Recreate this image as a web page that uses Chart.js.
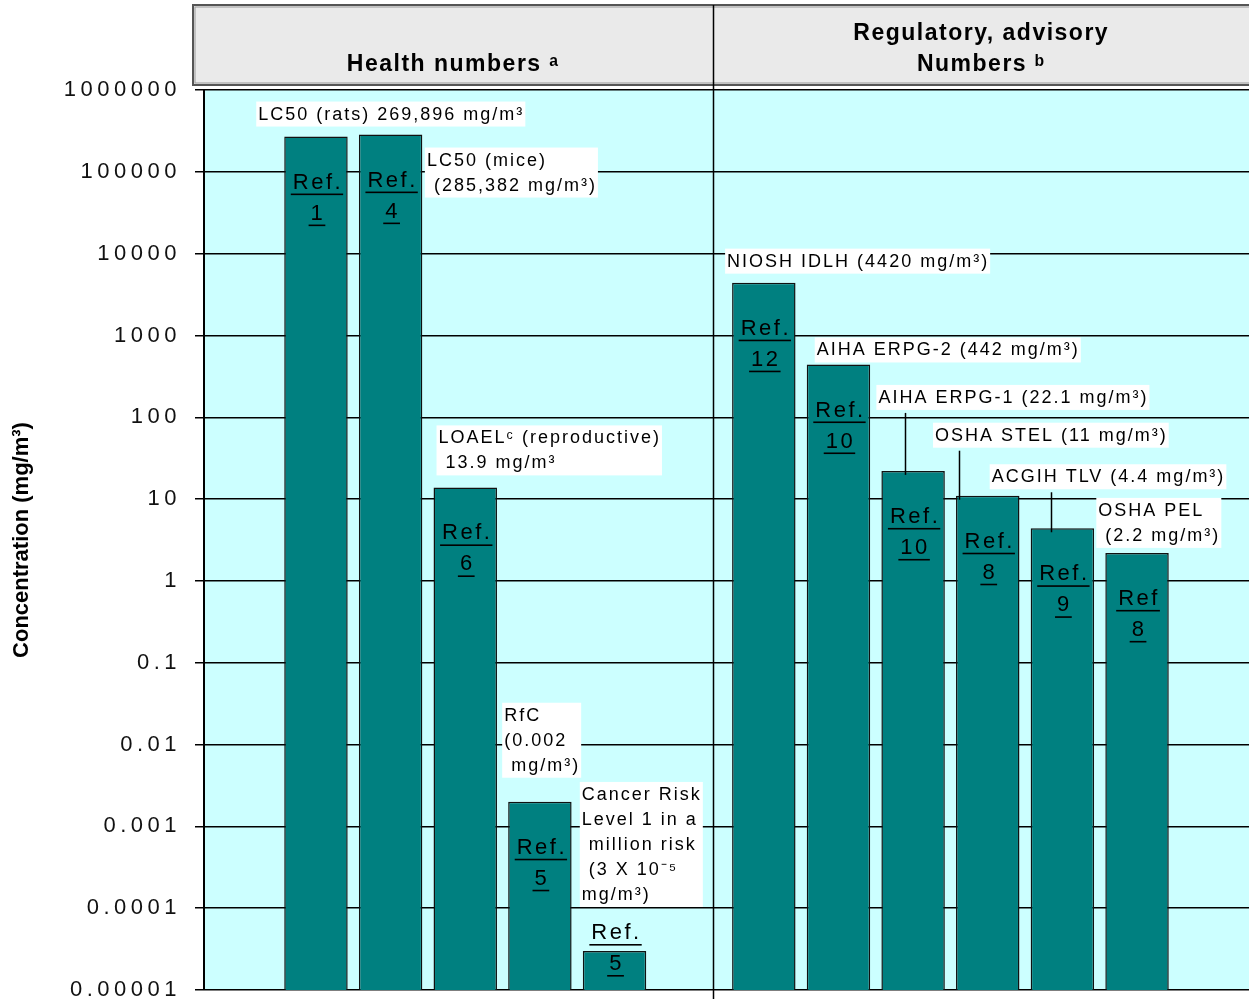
<!DOCTYPE html>
<html>
<head>
<meta charset="utf-8">
<script src="https://cdn.jsdelivr.net/npm/chart.js@4.4.1/dist/chart.umd.min.js"></script>
<style>
    html, body { margin: 0; padding: 0; background: #ffffff; }
    canvas { display: block; }
</style>
</head>
<body>
<canvas id="chart" width="1249" height="999"></canvas>
<script>
// empty slots keep the gaps between the two groups
const categories = ["", "LC50 rats", "LC50 mice", "LOAEL", "RfC", "Cancer risk", "",
    "NIOSH IDLH", "AIHA ERPG-2", "AIHA ERPG-1", "OSHA STEL", "ACGIH TLV", "OSHA PEL", ""];
const concentrations = [null, 269896, 285382, 13.9, 0.002, 0.00003, null,
    4420, 442, 22.1, 11, 4.4, 2.2, null];
const refWords = ["", "Ref.", "Ref.", "Ref.", "Ref.", "Ref.", "", "Ref.", "Ref.", "Ref.", "Ref.", "Ref.", "Ref", ""];
const refNumbers = ["", "1", "4", "6", "5", "5", "", "12", "10", "10", "8", "9", "8", ""];
const yTicks = [0.00001, 0.0001, 0.001, 0.01, 0.1, 1, 10, 100, 1000, 10000, 100000, 1000000];
const yTickLabels = ["0.00001", "0.0001", "0.001", "0.01", "0.1", "1", "10", "100", "1000", "10000", "100000", "1000000"];
const barLabels = [
    null,
    ["LC50 (rats) 269,896 mg/m³"],
    ["LC50 (mice)", " (285,382 mg/m³)"],
    ["LOAELᶜ (reproductive)", " 13.9 mg/m³"],
    ["RfC", "(0.002", " mg/m³)"],
    ["Cancer Risk", "Level 1 in a", " million risk", " (3 X 10⁻⁵", "mg/m³)"],
    null,
    ["NIOSH IDLH (4420 mg/m³)"],
    ["AIHA ERPG-2 (442 mg/m³)"],
    ["AIHA ERPG-1 (22.1 mg/m³)"],
    ["OSHA STEL (11 mg/m³)"],
    ["ACGIH TLV (4.4 mg/m³)"],
    ["OSHA PEL", " (2.2 mg/m³)"],
    null
];
const groupTitles = [["Health numbers ᵃ"], ["Regulatory, advisory", "Numbers ᵇ"]];
const yTitle = "Concentration (mg/m³)";

// where each label box sits, relative to the top-left corner of its bar
const labelOffsets = [null, [-28, -35], [66, 13], [3, -62], [-6, -99], [-3, -169], null,
    [-7, -34], [8, -27], [-5, -86], [-23, -73], [-41, -64], [-9, -55], null];
// leader lines from a label down to its bar: [bar index, x offset from bar left]
const leaders = [[9, 24], [10, 3], [11, 20]];

const TEAL = "#008080";
const CYAN = "#CCFFFF";
const LABEL_FONT = "18px 'Liberation Sans', Arial, sans-serif";
const REF_FONT = "22px 'Liberation Sans', Arial, sans-serif";

function barRect(chart, i) {
    const el = chart.getDatasetMeta(0).data[i];
    return { left: el.x - el.width / 2, right: el.x + el.width / 2, top: el.y, cx: el.x };
}

function drawLabelBox(ctx, lines, x, y) {
    ctx.font = LABEL_FONT;
    ctx.letterSpacing = "2px";
    const w = Math.max(...lines.map(l => ctx.measureText(l).width)) + 3;
    const h = lines.length * 25;
    ctx.fillStyle = "#ffffff";
    ctx.fillRect(x, y, w, h);
    ctx.fillStyle = "#000000";
    ctx.textAlign = "left";
    ctx.textBaseline = "middle";
    lines.forEach((l, k) => ctx.fillText(l, x + 2, y + 13 + k * 25));
    return { x: x, y: y, w: w, h: h };
}

function drawUnderlined(ctx, text, cx, cy) {
    const w = ctx.measureText(text).width;
    ctx.fillText(text, cx + 2, cy);
    ctx.fillRect(cx - w / 2, cy + 11, w + 2, 1.6);
}

const backgroundPlugin = {
    id: "background",
    beforeDraw(chart) {
        const ctx = chart.ctx;
        const a = chart.chartArea;
        ctx.save();
        ctx.fillStyle = CYAN;
        ctx.fillRect(a.left, a.top, a.right - a.left, a.bottom - a.top);

        // header boxes above the plot
        const hx = a.left - 11, hy = 5, hb = a.top - 5;
        ctx.fillStyle = "#EAEAEA";
        ctx.fillRect(hx, hy, chart.width - hx, hb - hy);
        ctx.strokeStyle = "#555555";
        ctx.lineWidth = 2;
        ctx.strokeRect(hx, hy, chart.width - hx + 5, hb - hy);
        ctx.strokeStyle = "#999999";
        ctx.lineWidth = 1;
        ctx.strokeRect(hx + 2, hy + 2, chart.width - hx, hb - hy - 4);
        ctx.restore();
        // wide tick label spacing like the original
        ctx.letterSpacing = "4.5px";
    },
    afterDatasetsDraw(chart) {
        const ctx = chart.ctx;
        const a = chart.chartArea;
        const xs = chart.scales.x;
        ctx.save();

        // divider between the two groups
        const dx = Math.round(xs.getPixelForValue(6.32)) + 0.5;
        ctx.strokeStyle = "#000000";
        ctx.lineWidth = 1.5;
        ctx.beginPath();
        ctx.moveTo(dx, 5);
        ctx.lineTo(dx, chart.height);
        ctx.stroke();

        // header titles
        ctx.fillStyle = "#000000";
        ctx.font = "bold 23px 'Liberation Sans', Arial, sans-serif";
        ctx.letterSpacing = "1.5px";
        ctx.textAlign = "center";
        ctx.textBaseline = "middle";
        const leftMid = (a.left - 11 + dx) / 2;
        const rightMid = (dx + chart.width) / 2;
        ctx.fillText(groupTitles[0][0], leftMid, 65);
        ctx.fillText(groupTitles[1][0], rightMid, 34);
        ctx.fillText(groupTitles[1][1], rightMid, 65);

        // y axis title
        ctx.save();
        ctx.translate(22, (a.top + a.bottom) / 2);
        ctx.rotate(-Math.PI / 2);
        ctx.font = "bold 22px 'Liberation Sans', Arial, sans-serif";
        ctx.letterSpacing = "0px";
        ctx.fillText(yTitle, 0, 0);
        ctx.restore();

        // Ref. notes inside the bars
        ctx.font = REF_FONT;
        ctx.letterSpacing = "2.5px";
        ctx.textAlign = "center";
        ctx.textBaseline = "middle";
        ctx.fillStyle = "#000000";
        concentrations.forEach((v, i) => {
            if (v === null) return;
            const r = barRect(chart, i);
            const y1 = Math.min(r.top + 46, a.bottom - 57);
            drawUnderlined(ctx, refWords[i], r.cx, y1);
            drawUnderlined(ctx, refNumbers[i], r.cx, y1 + 31);
        });

        // value labels with white boxes
        const boxes = [];
        barLabels.forEach((lines, i) => {
            if (!lines) return;
            const r = barRect(chart, i);
            const off = labelOffsets[i];
            boxes[i] = drawLabelBox(ctx, lines, r.left + off[0], r.top + off[1]);
        });

        // leader lines
        ctx.strokeStyle = "#000000";
        ctx.lineWidth = 1.5;
        leaders.forEach(([i, ox]) => {
            const r = barRect(chart, i);
            const b = boxes[i];
            const lx = Math.round(r.left + ox) + 0.5;
            ctx.beginPath();
            ctx.moveTo(lx, b.y + b.h + 3);
            ctx.lineTo(lx, r.top + 4);
            ctx.stroke();
        });
        ctx.restore();
    }
};

const ctx = document.getElementById("chart").getContext("2d");
new Chart(ctx, {
    type: "bar",
    data: {
        labels: categories,
        datasets: [{
            data: concentrations,
            backgroundColor: TEAL,
            borderColor: "#111111",
            borderWidth: 1.5,
            borderSkipped: "start",
            barPercentage: 0.85,
            categoryPercentage: 1.0
        }]
    },
    options: {
        responsive: false,
        animation: false,
        devicePixelRatio: 1,
        layout: { padding: { top: 90, bottom: 9, left: 0, right: 0 } },
        plugins: {
            legend: { display: false },
            tooltip: { enabled: false }
        },
        scales: {
            x: {
                display: false,
                offset: true
            },
            y: {
                type: "logarithmic",
                min: 0.00001,
                max: 1000000,
                afterBuildTicks: scale => {
                    scale.ticks = yTicks.map(v => ({ value: v }));
                },
                afterFit: scale => {
                    scale.width = 204;
                    scale.paddingTop = 0;
                    scale.paddingBottom = 0;
                },
                ticks: {
                    autoSkip: false,
                    callback: (value, index) => yTickLabels[index],
                    font: { family: "'Liberation Sans', Arial, sans-serif", size: 22 },
                    color: "#111111",
                    padding: 14
                },
                grid: {
                    color: "#000000",
                    lineWidth: 1.5,
                    tickLength: 9,
                    tickColor: "#000000"
                },
                border: { color: "#000000", width: 2 }
            }
        }
    },
    plugins: [backgroundPlugin]
});
</script>
</body>
</html>
